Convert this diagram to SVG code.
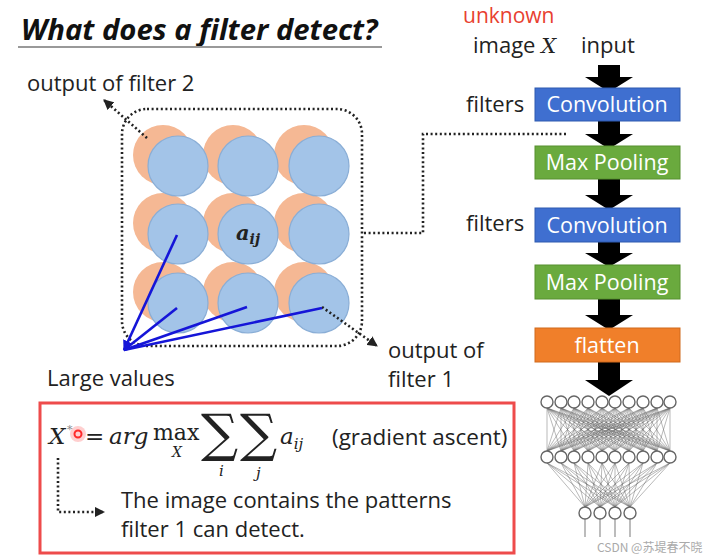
<svg xmlns="http://www.w3.org/2000/svg" width="721" height="560" viewBox="0 0 721 560">
<style>
.lbl{font-family:"Open Sans",Lato,sans-serif;font-size:22px;fill:#222}
.box{font-family:"Open Sans",Lato,sans-serif;font-size:21.5px;fill:#fff;text-anchor:middle}
.math{font-family:"DejaVu Serif","Liberation Serif",serif;font-style:italic;fill:#222}
.rm{font-family:"DejaVu Serif","Liberation Serif",serif;fill:#222}
.dot{fill:none;stroke:#222;stroke-width:2.6;stroke-dasharray:2 2.6}
.blue{stroke:#1515D8;stroke-width:2.6;fill:none}
.org{fill:#F5B894}
.blu{fill:#A3C4E8;stroke:#8AAED6;stroke-width:1.2}
.arr{fill:#000}
.nn{fill:none;stroke:#666;stroke-width:0.7;stroke-opacity:0.65}
.nd{fill:#fff;stroke:#666;stroke-width:1.4}
</style>
<defs>
<marker id="ah" viewBox="0 0 10 10" refX="9" refY="5" markerWidth="4" markerHeight="4" orient="auto"><path d="M0 0L10 5L0 10z" fill="#222"/></marker>
<marker id="bh" viewBox="0 0 10 10" refX="9" refY="5" markerWidth="4" markerHeight="4" orient="auto"><path d="M0 0L10 5L0 10z" fill="#1515D8"/></marker>
</defs>
<rect width="721" height="560" fill="#fff"/>
<g id="title">
<text x="21" y="40" font-family="'Open Sans',Lato,sans-serif" font-weight="bold" font-style="italic" font-size="29.3" fill="#111">What does a filter detect?</text>
<line x1="18" y1="47" x2="382" y2="47" stroke="#999" stroke-width="2"/>
</g>
<g id="feature-map">
<circle class="org" cx="163" cy="155" r="30"/><circle class="org" cx="233" cy="155" r="30"/><circle class="org" cx="304" cy="155" r="30"/>
<circle class="org" cx="163" cy="223" r="30"/><circle class="org" cx="233" cy="223" r="30"/><circle class="org" cx="304" cy="223" r="30"/>
<circle class="org" cx="163" cy="292" r="30"/><circle class="org" cx="233" cy="292" r="30"/><circle class="org" cx="304" cy="292" r="30"/>
<circle class="blu" cx="178" cy="166" r="30"/><circle class="blu" cx="248" cy="166" r="30"/><circle class="blu" cx="319" cy="166" r="30"/>
<circle class="blu" cx="178" cy="234" r="30"/><circle class="blu" cx="248" cy="234" r="30"/><circle class="blu" cx="319" cy="234" r="30"/>
<circle class="blu" cx="178" cy="303" r="30"/><circle class="blu" cx="248" cy="303" r="30"/><circle class="blu" cx="319" cy="303" r="30"/>
<text class="math" x="236" y="240" font-size="21" font-weight="bold" fill="#333">a<tspan font-size="14" dy="4">ij</tspan></text>
<rect class="dot" x="122" y="109" width="240" height="237" rx="25"/>
</g>
<g id="labels">
<text class="lbl" x="27" y="91">output of filter 2</text>
<text class="lbl" x="47" y="386">Large values</text>
<text class="lbl" x="388" y="358">output of</text>
<text class="lbl" x="388" y="387">filter 1</text>
<text class="lbl" x="463" y="23" style="fill:#E8402F;font-size:21px">unknown</text>
<text class="lbl" x="473" y="53">image <tspan class="math" font-size="21">X</tspan></text>
<text class="lbl" x="581" y="53">input</text>
<text class="lbl" x="466" y="112">filters</text>
<text class="lbl" x="466" y="231">filters</text>
</g>
<g id="connectors">
<path class="dot" d="M147 138L104 100" marker-end="url(#ah)"/>
<path class="dot" d="M322 307L377 346" marker-end="url(#ah)"/>
<path class="dot" d="M364 233H423V134H568"/>
<path class="blue" d="M177 235L124 350" marker-end="url(#bh)"/>
<path class="blue" d="M177 308L124 350"/>
<path class="blue" d="M247 307L124 350"/>
<path class="blue" d="M322 308L124 350"/>
<path class="dot" d="M58 458V512H104" marker-end="url(#ah)"/>
</g>
<g id="arrows">
<path class="arr" d="M598 65H620V77H633L609 92L585 77H598Z"/>
<path class="arr" d="M598 121H620V134H633L609 149L585 134H598Z"/>
<path class="arr" d="M598 179H620V195H633L609 210L585 195H598Z"/>
<path class="arr" d="M598 242H620V253H633L609 267L585 253H598Z"/>
<path class="arr" d="M598 299H620V315H633L609 330L585 315H598Z"/>
<path class="arr" d="M598 362H620V380H633L609 396L585 380H598Z"/>
</g>
<g id="conv1"><rect x="535" y="88" width="145" height="33" fill="#3F6FD0" stroke="#2F5AAF"/><text class="box" x="607" y="112">Convolution</text></g>
<g id="pool1"><rect x="535" y="146" width="145" height="33" fill="#6AAA3E" stroke="#56902F"/><text class="box" x="607" y="170">Max Pooling</text></g>
<g id="conv2"><rect x="535" y="208" width="145" height="34" fill="#3F6FD0" stroke="#2F5AAF"/><text class="box" x="607" y="233">Convolution</text></g>
<g id="pool2"><rect x="535" y="265" width="145" height="34" fill="#6AAA3E" stroke="#56902F"/><text class="box" x="607" y="290">Max Pooling</text></g>
<g id="flatten"><rect x="535" y="328" width="145" height="34" fill="#F07F2A" stroke="#D06A1C"/><text class="box" x="607" y="353">flatten</text></g>
<g id="network">
<polyline class="nn" points="547,408 547,451 561,408 561,451 574,408 574,451 588,408 588,451 602,408 602,451 615,408 615,451 629,408 629,451 643,408 643,451 657,408 657,451 670,408 670,451 547,408"/>
<polyline class="nn" points="547,408 574,451 561,408 588,451 574,408 602,451 588,408 615,451 602,408 629,451 615,408 643,451 629,408 657,451 643,408 670,451 657,408 547,451 670,408 561,451 547,408"/>
<polyline class="nn" points="547,408 602,451 561,408 615,451 574,408 629,451 588,408 643,451 602,408 657,451 615,408 670,451 629,408 547,451 643,408 561,451 657,408 574,451 670,408 588,451 547,408"/>
<polyline class="nn" points="547,408 629,451 561,408 643,451 574,408 657,451 588,408 670,451 602,408 547,451 615,408 561,451 629,408 574,451 643,408 588,451 657,408 602,451 670,408 615,451 547,408"/>
<polyline class="nn" points="547,408 657,451 561,408 670,451 574,408 547,451 588,408 561,451 602,408 574,451 615,408 588,451 629,408 602,451 643,408 615,451 657,408 629,451 670,408 643,451 547,408"/>
<path class="nn" d="M547 463L585 507L561 463M574 463L585 507L588 463M602 463L585 507L615 463M629 463L585 507L643 463M657 463L585 507L670 463
M547 463L600 507L561 463M574 463L600 507L588 463M602 463L600 507L615 463M629 463L600 507L643 463M657 463L600 507L670 463
M547 463L615 507L561 463M574 463L615 507L588 463M602 463L615 507L615 463M629 463L615 507L643 463M657 463L615 507L670 463
M547 463L630 507L561 463M574 463L630 507L588 463M602 463L630 507L615 463M629 463L630 507L643 463M657 463L630 507L670 463"/>
<path d="M585 519V537M600 519V537M615 519V537M630 519V537" stroke="#999" stroke-width="1.3"/>
<g class="nd">
<circle cx="547" cy="402" r="6"/><circle cx="561" cy="402" r="6"/><circle cx="574" cy="402" r="6"/><circle cx="588" cy="402" r="6"/><circle cx="602" cy="402" r="6"/><circle cx="615" cy="402" r="6"/><circle cx="629" cy="402" r="6"/><circle cx="643" cy="402" r="6"/><circle cx="657" cy="402" r="6"/><circle cx="670" cy="402" r="6"/>
<circle cx="547" cy="457" r="6"/><circle cx="561" cy="457" r="6"/><circle cx="574" cy="457" r="6"/><circle cx="588" cy="457" r="6"/><circle cx="602" cy="457" r="6"/><circle cx="615" cy="457" r="6"/><circle cx="629" cy="457" r="6"/><circle cx="643" cy="457" r="6"/><circle cx="657" cy="457" r="6"/><circle cx="670" cy="457" r="6"/>
<circle cx="585" cy="513" r="6"/><circle cx="600" cy="513" r="6"/><circle cx="615" cy="513" r="6"/><circle cx="630" cy="513" r="6"/>
</g>
</g>
<g id="formula-box">
<rect x="40" y="403" width="474" height="150" fill="none" stroke="#EE4B4B" stroke-width="3"/>
<text class="math" x="49" y="444" font-size="23">X</text>
<text class="rm" x="67" y="433" font-size="11" style="fill:#888">*</text>
<circle cx="78" cy="434" r="8" fill="#ff6060" opacity="0.3"/>
<circle cx="78" cy="434" r="3.5" fill="none" stroke="#ff2a2a" stroke-width="2"/>
<text class="rm" x="85" y="444" font-size="23">=</text>
<text class="math" x="109" y="444" font-size="23">arg</text>
<text class="rm" x="153" y="440" font-size="22">max</text>
<text class="math" x="172" y="457" font-size="14">X</text>
<text class="rm" x="201" y="451" font-size="52">∑</text>
<text class="rm" x="240" y="451" font-size="52">∑</text>
<text class="math" x="219" y="476" font-size="15">i</text>
<text class="math" x="256" y="478" font-size="15">j</text>
<text class="math" x="280" y="444" font-size="23">a<tspan font-size="15" dy="5">ij</tspan></text>
<text class="lbl" x="332" y="445" style="font-size:22.5px">(gradient ascent)</text>
<text class="lbl" x="121" y="508">The image contains the patterns</text>
<text class="lbl" x="121" y="537">filter 1 can detect.</text>
</g>
<text x="597" y="552" font-family="'Noto Sans CJK SC',sans-serif" font-size="12" fill="#aaa">CSDN @苏堤春不晓</text>
</svg>
